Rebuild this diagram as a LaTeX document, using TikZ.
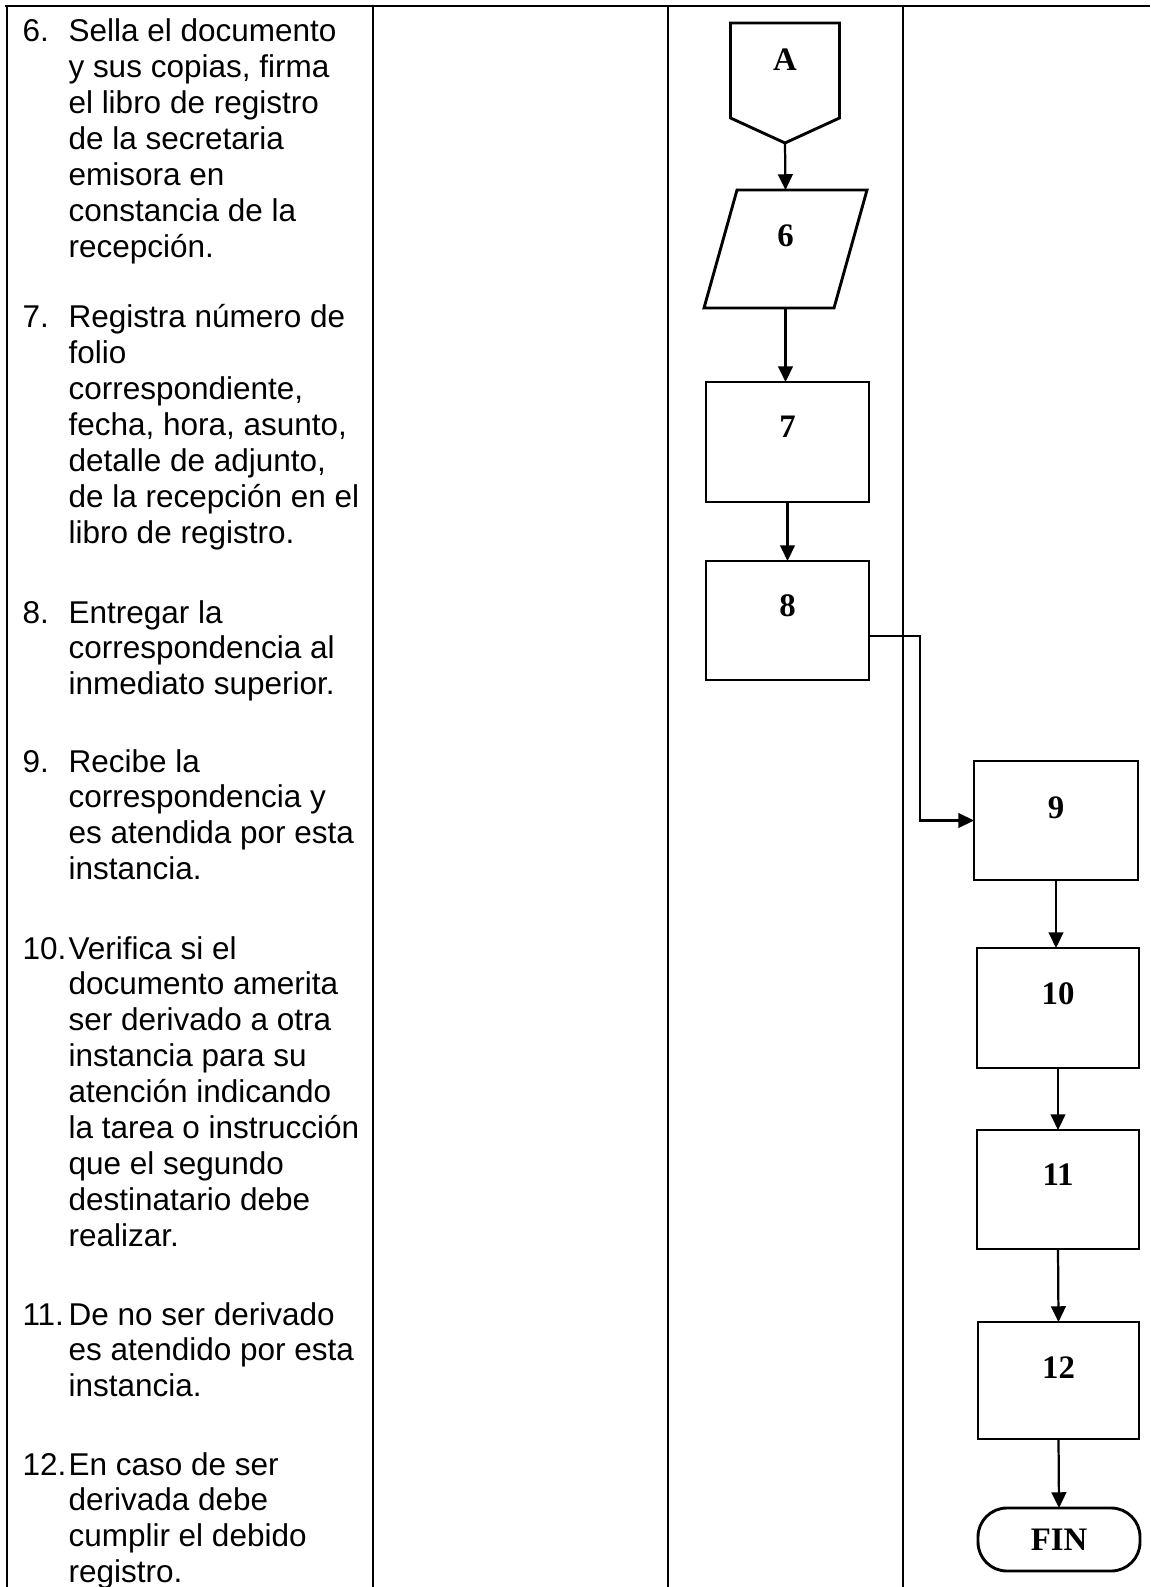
\documentclass[tikz,border=0pt]{standalone}
\usepackage{fontspec}
\setmainfont{Liberation Sans}
\newfontfamily\labelfont{Liberation Serif}
\usetikzlibrary{arrows.meta,calc}
\newcommand\pxu{0.381pt}
% a top-aligned block of lines, its baseline on the first line
\newcommand\steplines[1]{\begin{tabular}[t]{@{}l@{}}#1\end{tabular}}
\begin{document}
\begin{tikzpicture}[x=0.381pt,y=-0.381pt,
  item/.style={inner sep=0pt, anchor=base west,
    font=\fontsize{12pt}{13.7pt}\selectfont},
  grid/.style={line width=0.8pt},
  shp/.style={line width=1.1pt, inner sep=0pt, outer sep=0pt},
  proc/.style={shp, draw, rectangle},
  tag/.style={inner sep=0pt, font=\labelfont\bfseries\fontsize{12.5pt}{14pt}\selectfont},
  flow/.style={line width=0.85pt, -{Triangle[length=6pt,width=5.6pt]}}]

\useasboundingbox (0,0) rectangle (1150,1587);
\fill[white] (0,0) rectangle (1150,1587);

% table frame and lane separators
\draw[grid] (5,6) -- (1150,6);
\draw[grid] (7,6) -- (7,1587);
\draw[grid] (373,6) -- (373,1587);
\draw[grid] (668,6) -- (668,1587);
\draw[grid] (903,6) -- (903,1587);

% step descriptions
\node[item] (n6) at (22,42) {6.};
\node[item] (t6) at (68,42) {\steplines{Sella el documento\\y sus copias, firma\\el libro de registro\\de la secretaria\\emisora en\\constancia de la\\recepción.}};
\node[item] (n7) at (22,328) {7.};
\node[item] (t7) at (68,328) {\steplines{Registra número de\\folio\\correspondiente,\\fecha, hora, asunto,\\detalle de adjunto,\\de la recepción en el\\libro de registro.}};
\node[item] (n8) at (22,623) {8.};
\node[item] (t8) at (68,623) {\steplines{Entregar la\\correspondencia al\\inmediato superior.}};
\node[item] (n9) at (22,772) {9.};
\node[item] (t9) at (68,772) {\steplines{Recibe la\\correspondencia y\\es atendida por esta\\instancia.}};
\node[item] (n10) at (22,959) {10.};
\node[item] (t10) at (68,959) {\steplines{Verifica si el\\documento amerita\\ser derivado a otra\\instancia para su\\atención indicando\\la tarea o instrucción\\que el segundo\\destinatario debe\\realizar.}};
\node[item] (n11) at (22,1325) {11.};
\node[item] (t11) at (68,1325) {\steplines{De no ser derivado\\es atendido por esta\\instancia.}};
\node[item] (n12) at (22,1475) {12.};
\node[item] (t12) at (68,1475) {\steplines{En caso de ser\\derivada debe\\cumplir el debido\\registro.}};

% off-page connector A
\node[shp, minimum width=109*\pxu, minimum height=120*\pxu] (A) at (785,83) {};
\draw[line width=1.1pt, line join=miter] (A.north west) -- (A.north east) -- ($(A.north east)+(0,95)$)
  -- (A.south) -- ($(A.north west)+(0,95)$) -- cycle;
\node[tag] at ($(A.north)+(0,37)$) {A};

% document step 6 (parallelogram)
\node[shp, minimum width=163*\pxu, minimum height=118*\pxu] (p6) at (785.5,249) {};
\draw[line width=1.1pt] ($(p6.north west)+(33,0)$) -- (p6.north east) -- ($(p6.south east)+(-33,0)$)
  -- (p6.south west) -- cycle;
\node[tag] at ($(p6.north)+(0,46)$) {6};

% process boxes
\node[proc, minimum width=163*\pxu, minimum height=120*\pxu] (b7) at (787.5,442) {};
\node[tag] at ($(b7.north)+(0,45)$) {7};
\node[proc, minimum width=163*\pxu, minimum height=119*\pxu] (b8) at (787.5,620.5) {};
\node[tag] at ($(b8.north)+(0,45)$) {8};
\node[proc, minimum width=164*\pxu, minimum height=119*\pxu] (b9) at (1056,820.5) {};
\node[tag] at ($(b9.north)+(0,47)$) {9};
\node[proc, minimum width=162*\pxu, minimum height=120*\pxu] (b10) at (1058,1008) {};
\node[tag] at ($(b10.north)+(0,46)$) {10};
\node[proc, minimum width=162*\pxu, minimum height=119*\pxu] (b11) at (1058,1189.5) {};
\node[tag] at ($(b11.north)+(0,45)$) {11};
\node[proc, minimum width=161*\pxu, minimum height=117*\pxu] (b12) at (1058.5,1380.5) {};
\node[tag] at ($(b12.north)+(0,46)$) {12};
\node[proc, rounded corners=11pt, minimum width=162*\pxu, minimum height=63*\pxu, font=\labelfont\bfseries\fontsize{12.5pt}{14pt}\selectfont] (fin) at (1059,1539.5) {FIN};

% connectors
\draw[flow] (A.south) -- (p6.north);
\draw[flow] (p6.south) -- (p6.south |- b7.north);
\draw[flow] (b7.south) -- (b8.north);
\coordinate (k89) at (920,636);
\draw[flow] (b8.east |- k89) -- (k89) |- (b9.west);
\draw[flow] (b9.south) -- (b9.south |- b10.north);
\draw[flow] (b10.south) -- (b11.north);
\draw[flow] (b11.south) -- (b12.north);
\draw[flow] (b12.south) -- (fin.north);
\end{tikzpicture}
\end{document}
